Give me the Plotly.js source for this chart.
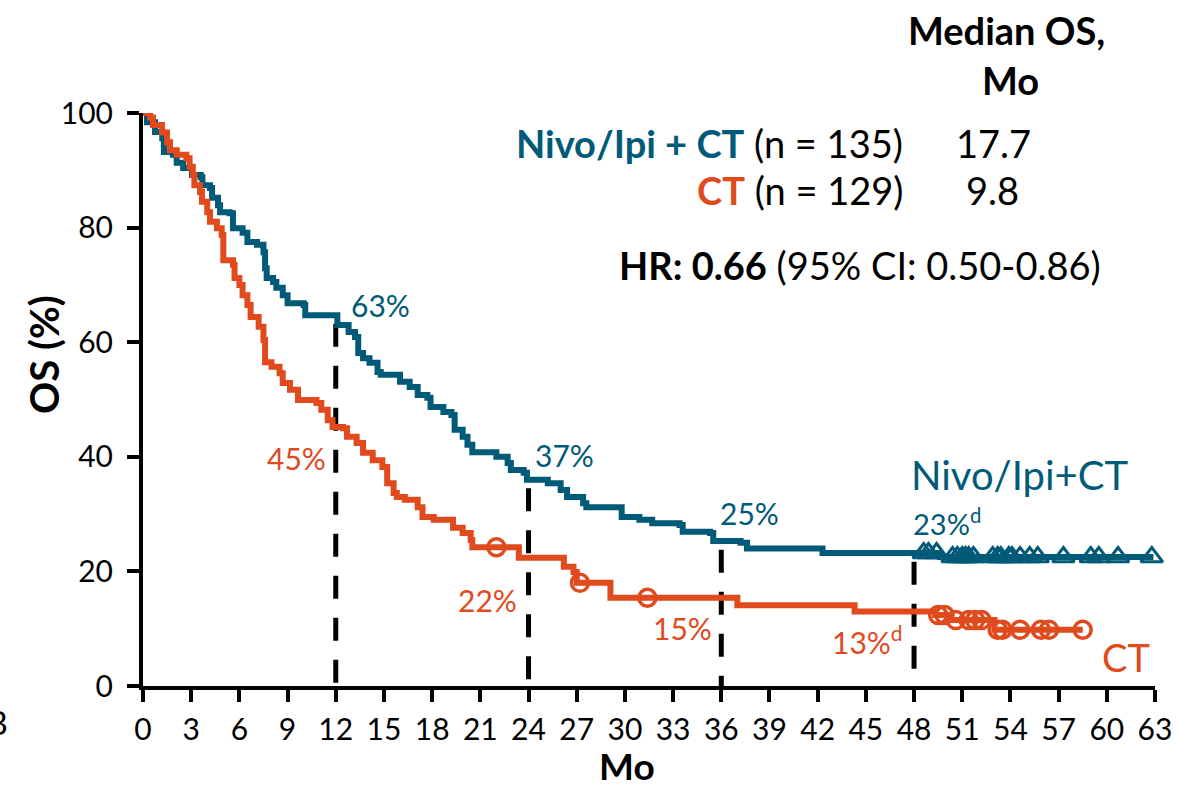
<!DOCTYPE html>
<html>
<head>
<meta charset="utf-8">
<script src="https://cdn.plot.ly/plotly-3.0.1.min.js"></script>
<style>html,body{margin:0;padding:0;background:#fff;}#chart{width:1178px;height:788px;}</style>
</head>
<body>
<div id="chart"></div>
<script>
// ---- Data (months, OS %) ----
const nivoTime = [0, 0.25, 0.75, 1.2, 1.3, 1.87, 2.1, 2.5, 3.05, 3.6, 3.7, 4.17, 4.3, 4.67, 4.8, 5.4, 5.6, 6.2, 6.5, 7.1, 7.5, 7.6, 7.7, 8.1, 8.3, 8.7, 9.0, 10.0, 10.1, 12.1, 12.8, 13.2, 13.4, 13.7, 14.1, 14.6, 14.8, 16.0, 16.6, 17.1, 17.7, 17.9, 18.7, 19.2, 19.4, 19.9, 20.2, 20.5, 22.0, 22.7, 22.9, 23.7, 23.9, 25.2, 26.0, 26.4, 27.4, 27.6, 29.8, 30.9, 31.7, 33.4, 33.6, 35.3, 35.5, 37.2, 37.6, 42.3, 49.6, 62.9];
const nivoOS   = [100, 98.4, 96.7, 95.6, 93.2, 92.7, 91.3, 90.4, 89.2, 88.8, 87.4, 86.9, 85.2, 83.9, 82.7, 82.5, 79.9, 79.1, 77.5, 77.0, 75.7, 72.9, 71.2, 70.5, 69.5, 68.2, 66.8, 66.5, 64.7, 63.0, 61.8, 60.9, 58.1, 57.2, 56.4, 54.8, 54.3, 53.1, 52.2, 50.8, 50.3, 48.7, 47.8, 47.3, 44.7, 43.5, 42.1, 40.8, 40.0, 38.9, 37.7, 37.2, 36.0, 35.4, 34.2, 33.0, 31.9, 31.2, 29.5, 29.0, 28.4, 28.1, 26.9, 26.7, 25.3, 25.0, 24.0, 23.2, 22.5, 22.5];
const nivoCensor = [48.6, 48.9, 49.4, 50.4, 50.7, 51.0, 51.2, 51.4, 51.7, 52.9, 53.2, 53.4, 53.9, 54.1, 54.6, 55.2, 55.7, 57.3, 59.0, 59.5, 60.7, 62.8];

const ctTime = [0, 0.44, 0.62, 1.18, 1.5, 1.68, 2.1, 2.7, 2.9, 3.1, 3.2, 3.55, 3.67, 4.0, 4.17, 4.6, 4.9, 5.0, 5.6, 5.7, 6.0, 6.2, 6.5, 6.7, 7.2, 7.5, 7.6, 8.0, 8.5, 8.7, 9.15, 9.65, 10.8, 11.1, 11.5, 11.8, 12.45, 12.7, 13.3, 13.7, 14.3, 14.9, 15.2, 15.6, 15.8, 16.3, 17.1, 17.4, 18.1, 19.3, 19.9, 20.4, 20.5, 23.4, 26.2, 26.8, 27.0, 29.1, 37.0, 44.3, 49.3, 50.3, 53.0, 58.5];
const ctOS   = [100, 99.2, 97.9, 96.6, 94.9, 93.5, 92.7, 92.1, 90.6, 89.2, 87.4, 86.2, 84.5, 82.7, 81.0, 79.9, 78.7, 74.3, 73.5, 71.2, 70.0, 68.2, 66.5, 64.4, 62.7, 60.4, 56.5, 55.7, 54.6, 52.9, 51.7, 49.9, 49.4, 48.2, 46.4, 45.2, 45.0, 43.5, 42.4, 40.7, 39.4, 38.2, 35.4, 33.7, 33.0, 32.5, 31.2, 29.5, 29.0, 27.6, 26.7, 25.5, 24.2, 22.4, 20.8, 19.9, 18.0, 15.4, 14.1, 13.0, 12.4, 11.5, 9.8, 9.8];
const ctCensor = [22.0, 27.2, 31.4, 49.5, 49.9, 50.6, 51.4, 51.8, 52.2, 53.2, 53.5, 54.6, 55.9, 56.4, 58.5];

const landmarks = [12, 24, 36, 48];
const xTicks = [0, 3, 6, 9, 12, 15, 18, 21, 24, 27, 30, 33, 36, 39, 42, 45, 48, 51, 54, 57, 60, 63];
const yTicks = [0, 20, 40, 60, 80, 100];

const TEAL = '#005A78';
const ORANGE = '#E04A1D';
const FONT = 'Lato, "Open Sans", sans-serif';

function stepAt(T, S, t) {
  let v = S[0];
  for (let i = 0; i < T.length; i++) { if (T[i] <= t) v = S[i]; }
  return v;
}

const traces = [
  { x: nivoTime, y: nivoOS, type: 'scatter', mode: 'lines', line: { shape: 'hv', color: TEAL, width: 6 }, cliponaxis: false, name: 'Nivo/Ipi+CT', hoverinfo: 'x+y' },
  { x: ctTime, y: ctOS, type: 'scatter', mode: 'lines', line: { shape: 'hv', color: ORANGE, width: 6 }, cliponaxis: false, name: 'CT', hoverinfo: 'x+y' },
  { x: nivoCensor, y: nivoCensor.map(t => stepAt(nivoTime, nivoOS, t)), type: 'scatter', mode: 'markers', cliponaxis: false,
    marker: { symbol: 'triangle-up-open', size: 19, color: TEAL, line: { color: TEAL, width: 3 } }, name: 'Nivo/Ipi+CT censored' },
  { x: ctCensor, y: ctCensor.map(t => stepAt(ctTime, ctOS, t)), type: 'scatter', mode: 'markers', cliponaxis: false,
    marker: { symbol: 'circle-open', size: 17, color: ORANGE, line: { color: ORANGE, width: 3.5 } }, name: 'CT censored' }
];

const shapes = landmarks.map(t => ({
  type: 'line', xref: 'x', yref: 'y', layer: 'below',
  x0: t, x1: t, y0: stepAt(nivoTime, nivoOS, t) - 1.5, y1: 0,
  line: { color: '#000', width: 5, dash: '23px,19px' }
}));

function ann(text, x, y, opts) {
  return Object.assign({ text: text, x: x, y: y, xref: 'x', yref: 'y', showarrow: false,
    xanchor: 'left', yanchor: 'middle', font: { family: FONT, size: 30, color: '#000' } }, opts || {});
}
const P = (px) => (px - 143) / 1012;   // pixel -> paper x helper
const Q = (py) => (686 - py) / 573;    // pixel -> paper y helper

const annotations = [
  ann('63%', 12.83, 66.5, { font: { family: FONT, size: 30, color: TEAL } }),
  ann('45%', 11.5, 39.8, { xanchor: 'right', font: { family: FONT, size: 30, color: ORANGE } }),
  ann('37%', 24.3, 40.3, { font: { family: FONT, size: 30, color: TEAL } }),
  ann('22%', 23.4, 15.0, { xanchor: 'right', font: { family: FONT, size: 30, color: ORANGE } }),
  ann('25%', 35.8, 30.2, { font: { family: FONT, size: 30, color: TEAL } }),
  ann('15%', 31.6, 10.1, { font: { family: FONT, size: 30, color: ORANGE } }),
  ann('Nivo/Ipi+CT', 47.7, 36.8, { font: { family: FONT, size: 40, color: TEAL } }),
  ann('23%<sup>d</sup>', 47.8, 28.7, { font: { family: FONT, size: 29, color: TEAL } }),
  ann('13%<sup>d</sup>', 47.45, 8.0, { xanchor: 'right', font: { family: FONT, size: 30, color: ORANGE } }),
  ann('CT', 59.6, 5.1, { font: { family: FONT, size: 38, color: ORANGE } }),
  // axis titles
  ann('<b>OS (%)</b>', P(44), Q(355), { xref: 'paper', yref: 'paper', xanchor: 'center', textangle: -90, font: { family: FONT, size: 40, color: '#000' } }),
  ann('<b>Mo</b>', P(627), Q(765), { xref: 'paper', yref: 'paper', xanchor: 'center', font: { family: FONT, size: 37, color: '#000' } }),
  // header block
  ann('<b>Median OS,</b>', P(1006), Q(30), { xref: 'paper', yref: 'paper', xanchor: 'center', font: { family: FONT, size: 38, color: '#000' } }),
  ann('<b>Mo</b>', P(1010), Q(80), { xref: 'paper', yref: 'paper', xanchor: 'center', font: { family: FONT, size: 38, color: '#000' } }),
  ann('<b><span style="color:' + TEAL + '">Nivo/Ipi + CT</span></b> (n = 135)', P(905), Q(143), { xref: 'paper', yref: 'paper', xanchor: 'right', font: { family: FONT, size: 38, color: '#000' } }),
  ann('17.7', P(993), Q(143), { xref: 'paper', yref: 'paper', xanchor: 'center', font: { family: FONT, size: 38, color: '#000' } }),
  ann('<b><span style="color:' + ORANGE + '">CT</span></b> (n = 129)', P(905), Q(190), { xref: 'paper', yref: 'paper', xanchor: 'right', font: { family: FONT, size: 38, color: '#000' } }),
  ann('9.8', P(992), Q(190), { xref: 'paper', yref: 'paper', xanchor: 'center', font: { family: FONT, size: 38, color: '#000' } }),
  ann('<b>HR: 0.66</b> (95% CI: 0.50-0.86)', P(860), Q(265), { xref: 'paper', yref: 'paper', xanchor: 'center', font: { family: FONT, size: 38, color: '#000' } }),
  // cropped panel letter at the left edge (cut off in the reference too)
  ann('B', P(10), Q(722), { xref: 'paper', yref: 'paper', xanchor: 'right', font: { family: FONT, size: 32, color: '#000' } })
];

const layout = {
  width: 1178, height: 788,
  margin: { l: 143, r: 23, t: 113, b: 102, pad: 0 },
  paper_bgcolor: '#fff', plot_bgcolor: '#fff',
  font: { family: FONT, color: '#000' },
  showlegend: false,
  xaxis: {
    range: [0, 63], tickmode: 'array', tickvals: xTicks, ticktext: xTicks.map(String),
    ticks: 'outside', ticklen: 12, tickwidth: 4, tickcolor: '#000',
    showline: true, linewidth: 4, linecolor: '#000', showgrid: false, zeroline: false,
    tickfont: { family: FONT, size: 30, color: '#000' }, ticklabelstandoff: 2, fixedrange: true
  },
  yaxis: {
    range: [0, 100], tickmode: 'array', tickvals: yTicks, ticktext: yTicks.map(String),
    ticks: 'outside', ticklen: 12, tickwidth: 4, tickcolor: '#000',
    showline: true, linewidth: 4, linecolor: '#000', showgrid: false, zeroline: false,
    tickfont: { family: FONT, size: 30, color: '#000' }, ticklabelstandoff: 8, fixedrange: true
  },
  shapes: shapes,
  annotations: annotations
};

Plotly.newPlot('chart', traces, layout, { staticPlot: true, displayModeBar: false });
</script>
</body>
</html>
